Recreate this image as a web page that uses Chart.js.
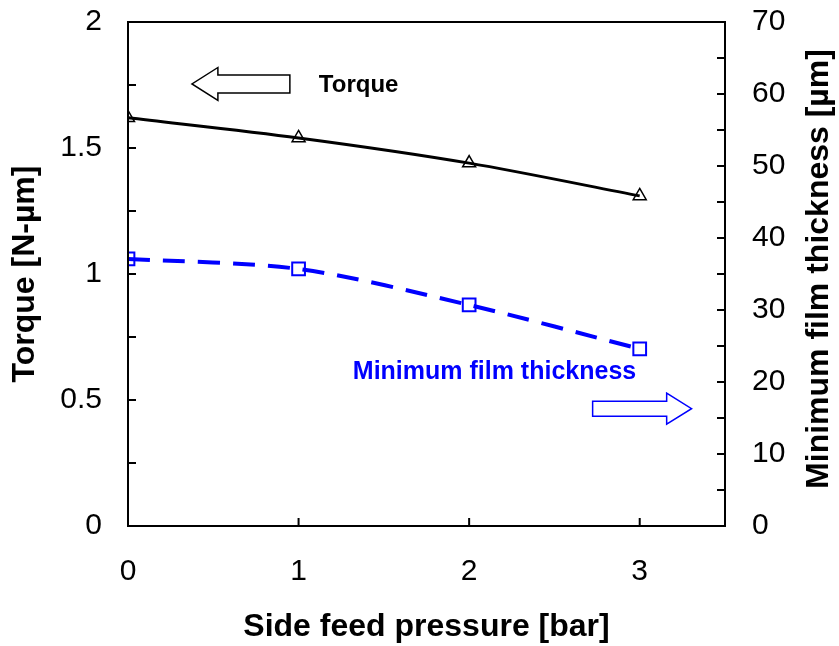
<!DOCTYPE html>
<html>
<head>
<meta charset="utf-8">
<script src="https://cdn.jsdelivr.net/npm/chart.js@4"></script>
<style>
  body { margin: 0; background: #fff; }
  #wrap { width: 839px; height: 646px; position: relative; }
</style>
</head>
<body>
<div id="wrap"><canvas id="chart"></canvas></div>
<script>
// ---- data ----
const pressure = [0, 1, 2, 3];
const torque = [1.62, 1.54, 1.44, 1.31];
const filmThickness = [37.1, 35.7, 30.7, 24.6];

// ---- ticks ----
const xTicks = [0, 1, 2, 3];
const yTorqueTicks = [0, 0.25, 0.5, 0.75, 1, 1.25, 1.5, 1.75, 2];
const yTorqueLabels = [0, 0.5, 1, 1.5, 2];
const yFilmTicks = [0, 5, 10, 15, 20, 25, 30, 35, 40, 45, 50, 55, 60, 65, 70];
const yFilmLabels = [0, 10, 20, 30, 40, 50, 60, 70];

const FONT = "'Liberation Sans', Arial, sans-serif";
const BLUE = "#0000ff";

// frame + inward tick marks + arrows/notes + right title
const decorPlugin = {
    id: 'decor',
    afterDatasetsDraw(chart) {
        const ctx = chart.ctx;
        const a = chart.chartArea;
        const sx = chart.scales.x, sy = chart.scales.y, sy2 = chart.scales.y2;
        const TL = 8;

        ctx.save();
        ctx.strokeStyle = "#000";
        ctx.lineWidth = 2;
        ctx.strokeRect(a.left, a.top, a.right - a.left, a.bottom - a.top);

        ctx.beginPath();
        sx.ticks.forEach(t => {
            const px = sx.getPixelForValue(t.value);
            ctx.moveTo(px, a.bottom);
            ctx.lineTo(px, a.bottom - TL);
        });
        sy.ticks.forEach(t => {
            const py = sy.getPixelForValue(t.value);
            ctx.moveTo(a.left, py);
            ctx.lineTo(a.left + TL, py);
        });
        sy2.ticks.forEach(t => {
            const py = sy2.getPixelForValue(t.value);
            ctx.moveTo(a.right, py);
            ctx.lineTo(a.right - TL, py);
        });
        ctx.stroke();

        // torque arrow (points left)
        drawArrow(ctx, sx.getPixelForValue(0.949), sx.getPixelForValue(0.527), sx.getPixelForValue(0.375),
            sy.getPixelForValue(1.754), 9, 16.5, "#000");
        // film thickness arrow (points right)
        drawArrow(ctx, sx.getPixelForValue(2.724), sx.getPixelForValue(3.158), sx.getPixelForValue(3.304),
            sy2.getPixelForValue(16.3), 7.5, 15.5, BLUE);

        ctx.textBaseline = "middle";
        ctx.textAlign = "left";
        ctx.font = "bold 24px " + FONT;
        ctx.fillStyle = "#000";
        ctx.fillText("Torque", sx.getPixelForValue(1.119), sy.getPixelForValue(1.75));
        ctx.font = "bold 25px " + FONT;
        ctx.fillStyle = BLUE;
        ctx.fillText("Minimum film thickness", sx.getPixelForValue(1.318), sy2.getPixelForValue(21.4));

        // right axis title reads bottom-to-top, like the left one
        ctx.translate(819, (a.top + a.bottom) / 2 - 5);
        ctx.rotate(-Math.PI / 2);
        ctx.textAlign = "center";
        ctx.font = "bold 32px " + FONT;
        ctx.fillStyle = "#000";
        ctx.fillText("Minimum film thickness [µm]", 0, 0);
        ctx.restore();
    }
};

function drawArrow(ctx, tailX, baseX, tipX, cy, shaftHalf, headHalf, color) {
    ctx.beginPath();
    ctx.moveTo(tailX, cy - shaftHalf);
    ctx.lineTo(baseX, cy - shaftHalf);
    ctx.lineTo(baseX, cy - headHalf);
    ctx.lineTo(tipX, cy);
    ctx.lineTo(baseX, cy + headHalf);
    ctx.lineTo(baseX, cy + shaftHalf);
    ctx.lineTo(tailX, cy + shaftHalf);
    ctx.closePath();
    ctx.fillStyle = "#fff";
    ctx.fill();
    ctx.strokeStyle = color;
    ctx.lineWidth = 1.5;
    ctx.stroke();
}

const tickFont = { family: FONT, size: 30 };
const titleFont = { family: FONT, size: 32, weight: 'bold', lineHeight: 1.2 };

// keep the plot box where the original has it
function noPad(s) {
    s.paddingTop = 0; s.paddingBottom = 0; s.paddingLeft = 0; s.paddingRight = 0;
}

new Chart(document.getElementById('chart'), {
    type: 'line',
    data: {
        datasets: [{
            label: 'Torque',
            data: pressure.map((p, i) => ({ x: p, y: torque[i] })),
            yAxisID: 'y',
            borderColor: '#000',
            borderWidth: 3,
            tension: 0.3,
            pointStyle: 'triangle',
            pointRadius: 7.5,
            pointBorderWidth: 1.5,
            pointBorderColor: '#000',
            pointBackgroundColor: 'rgba(0,0,0,0)'
        }, {
            label: 'Minimum film thickness',
            data: pressure.map((p, i) => ({ x: p, y: filmThickness[i] })),
            yAxisID: 'y2',
            borderColor: BLUE,
            borderWidth: 4,
            borderDash: [22, 13],
            tension: 0.3,
            pointStyle: 'rect',
            pointRadius: 9,
            pointBorderWidth: 2,
            pointBorderColor: BLUE,
            pointBackgroundColor: 'rgba(0,0,0,0)'
        }]
    },
    options: {
        responsive: true,
        maintainAspectRatio: false,
        animation: false,
        layout: { padding: { top: 22, left: 0, right: 0, bottom: 0 } },
        plugins: { legend: { display: false }, tooltip: { enabled: false } },
        scales: {
            x: {
                type: 'linear',
                min: 0,
                max: 3.5,
                afterBuildTicks: s => { s.ticks = xTicks.map(v => ({ value: v })); },
                afterFit: s => { s.height = 120; noPad(s); },
                grid: { display: false, drawTicks: false },
                border: { display: false },
                ticks: { color: '#000', font: tickFont, padding: 28, maxRotation: 0,
                    callback: v => String(v) },
                title: { display: true, text: 'Side feed pressure [bar]', color: '#000',
                    font: titleFont, padding: { top: 0, bottom: 0 } }
            },
            y: {
                position: 'left',
                min: 0,
                max: 2,
                afterBuildTicks: s => { s.ticks = yTorqueTicks.map(v => ({ value: v })); },
                afterFit: s => { s.width = 128; noPad(s); },
                grid: { display: false, drawTicks: false },
                border: { display: false },
                ticks: { color: '#000', font: tickFont, padding: 26, autoSkip: false,
                    callback: v => yTorqueLabels.includes(v) ? String(v) : '' },
                title: { display: true, text: 'Torque [N-µm]', color: '#000',
                    font: titleFont, padding: { top: 6, bottom: 0 } }
            },
            y2: {
                position: 'right',
                min: 0,
                max: 70,
                afterBuildTicks: s => { s.ticks = yFilmTicks.map(v => ({ value: v })); },
                afterFit: s => { s.width = 114; noPad(s); },
                grid: { display: false, drawTicks: false },
                border: { display: false },
                ticks: { color: '#000', font: tickFont, padding: 27, autoSkip: false,
                    callback: v => yFilmLabels.includes(v) ? String(v) : '' },
                title: { display: false }
            }
        }
    },
    plugins: [decorPlugin]
});
</script>
</body>
</html>
